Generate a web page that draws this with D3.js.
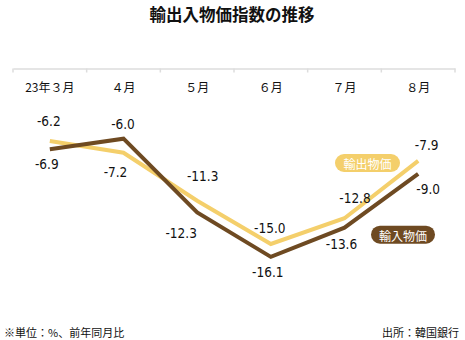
<!DOCTYPE html>
<html lang="ja">
<head>
<meta charset="utf-8">
<script src="https://cdn.jsdelivr.net/npm/d3@7"></script>
<style>
  html, body { margin: 0; padding: 0; background: #fff; }
  svg { display: block; }
  .jp { font-family: "Noto Sans CJK JP", "Noto Sans", sans-serif; }
  .num { font-family: "Liberation Sans Narrow", "DejaVu Sans Condensed", "Roboto", sans-serif; }
</style>
</head>
<body>
<svg id="chart" width="465" height="340"></svg>
<script>
// Month labels and year-on-year changes (%)
const months = ["23年３月", "４月", "５月", "６月", "７月", "８月"];
const exportPrices = [-6.2, -7.2, -11.3, -15.0, -12.8, -7.9];
const importPrices = [-6.9, -6.0, -12.3, -16.1, -13.6, -9.0];

// Where each value label sits relative to its point
const exportLabelOffsets = [[-1, -20], [-8, 19], [5.5, -24.5], [-1, -16], [10.5, -20.5], [8.5, -16]];
const importLabelOffsets = [[-3, 15], [-0.5, -15], [-16, 20.5], [-3, 15], [-3, 16.5], [10, 15]];

const exportColor = "#f4cf6b";
const importColor = "#6e4a22";

const svg = d3.select("#chart");

const x = d3.scaleBand().domain(months).range([13, 455]);
const y = d3.scaleLinear().domain([0, -20]).range([68.5, 302.5]);
const px = m => x(m) + x.bandwidth() / 2;

// Title
svg.append("text")
  .attr("class", "jp")
  .attr("x", 232).attr("y", 14)
  .attr("text-anchor", "middle").attr("dominant-baseline", "central")
  .attr("font-size", 16.5).attr("font-weight", 700).attr("fill", "#111")
  .text("輸出入物価指数の推移");

// Zero line with month axis on top
const axis = svg.append("g").attr("transform", `translate(0,${y(0)})`)
  .call(d3.axisBottom(x).tickSize(4).tickSizeOuter(0).tickFormat(() => ""));
axis.select(".domain").attr("stroke", "#dddddd").attr("stroke-width", 1.5);
axis.selectAll(".tick line").attr("stroke", "#dddddd").attr("stroke-width", 1.5)
  .attr("transform", `translate(${-x.bandwidth() / 2},0)`);
// closing tick on the right edge
axis.append("line").attr("x1", 455).attr("x2", 455).attr("y1", 0).attr("y2", 4)
  .attr("stroke", "#dddddd").attr("stroke-width", 1.5);

svg.append("g").selectAll("text").data(months).join("text")
  .attr("class", "jp")
  .attr("x", d => px(d)).attr("y", 86.5)
  .attr("text-anchor", "middle").attr("dominant-baseline", "central")
  .attr("font-size", 12).attr("fill", "#111")
  .text(d => d);

const line = d3.line().x((d, i) => px(months[i])).y(d => y(d));

svg.append("path").datum(exportPrices)
  .attr("d", line).attr("fill", "none")
  .attr("stroke", exportColor).attr("stroke-width", 4);
svg.append("path").datum(importPrices)
  .attr("d", line).attr("fill", "none")
  .attr("stroke", importColor).attr("stroke-width", 4);

function valueLabels(values, offsets) {
  svg.append("g").selectAll("text").data(values).join("text")
    .attr("class", "num")
    .attr("x", (d, i) => px(months[i]) + offsets[i][0])
    .attr("y", (d, i) => y(d) + offsets[i][1])
    .attr("text-anchor", "middle").attr("dominant-baseline", "central")
    .attr("font-size", 13.5).attr("fill", "#111")
    .text(d => d.toFixed(1));
}
valueLabels(exportPrices, exportLabelOffsets);
valueLabels(importPrices, importLabelOffsets);

// Series badges
function badge(cx, cy, w, h, color, label) {
  const g = svg.append("g");
  g.append("rect").attr("x", cx - w / 2).attr("y", cy - h / 2)
    .attr("width", w).attr("height", h).attr("rx", h / 2)
    .attr("fill", color);
  g.append("text").attr("class", "jp")
    .attr("x", cx).attr("y", cy + 0.5)
    .attr("text-anchor", "middle").attr("dominant-baseline", "central")
    .attr("font-size", 12).attr("fill", "#fff")
    .text(label);
}
badge(367.5, 163, 65, 18, exportColor, "輸出物価");
badge(403, 234.7, 64, 18, importColor, "輸入物価");

// Footnotes
svg.append("text").attr("class", "jp")
  .attr("x", 4).attr("y", 331.5).attr("dominant-baseline", "central")
  .attr("font-size", 11).attr("fill", "#111")
  .text("※単位：%、前年同月比");
svg.append("text").attr("class", "jp")
  .attr("x", 459).attr("y", 331.5).attr("dominant-baseline", "central")
  .attr("text-anchor", "end")
  .attr("font-size", 11).attr("fill", "#111")
  .text("出所：韓国銀行");
</script>
</body>
</html>
